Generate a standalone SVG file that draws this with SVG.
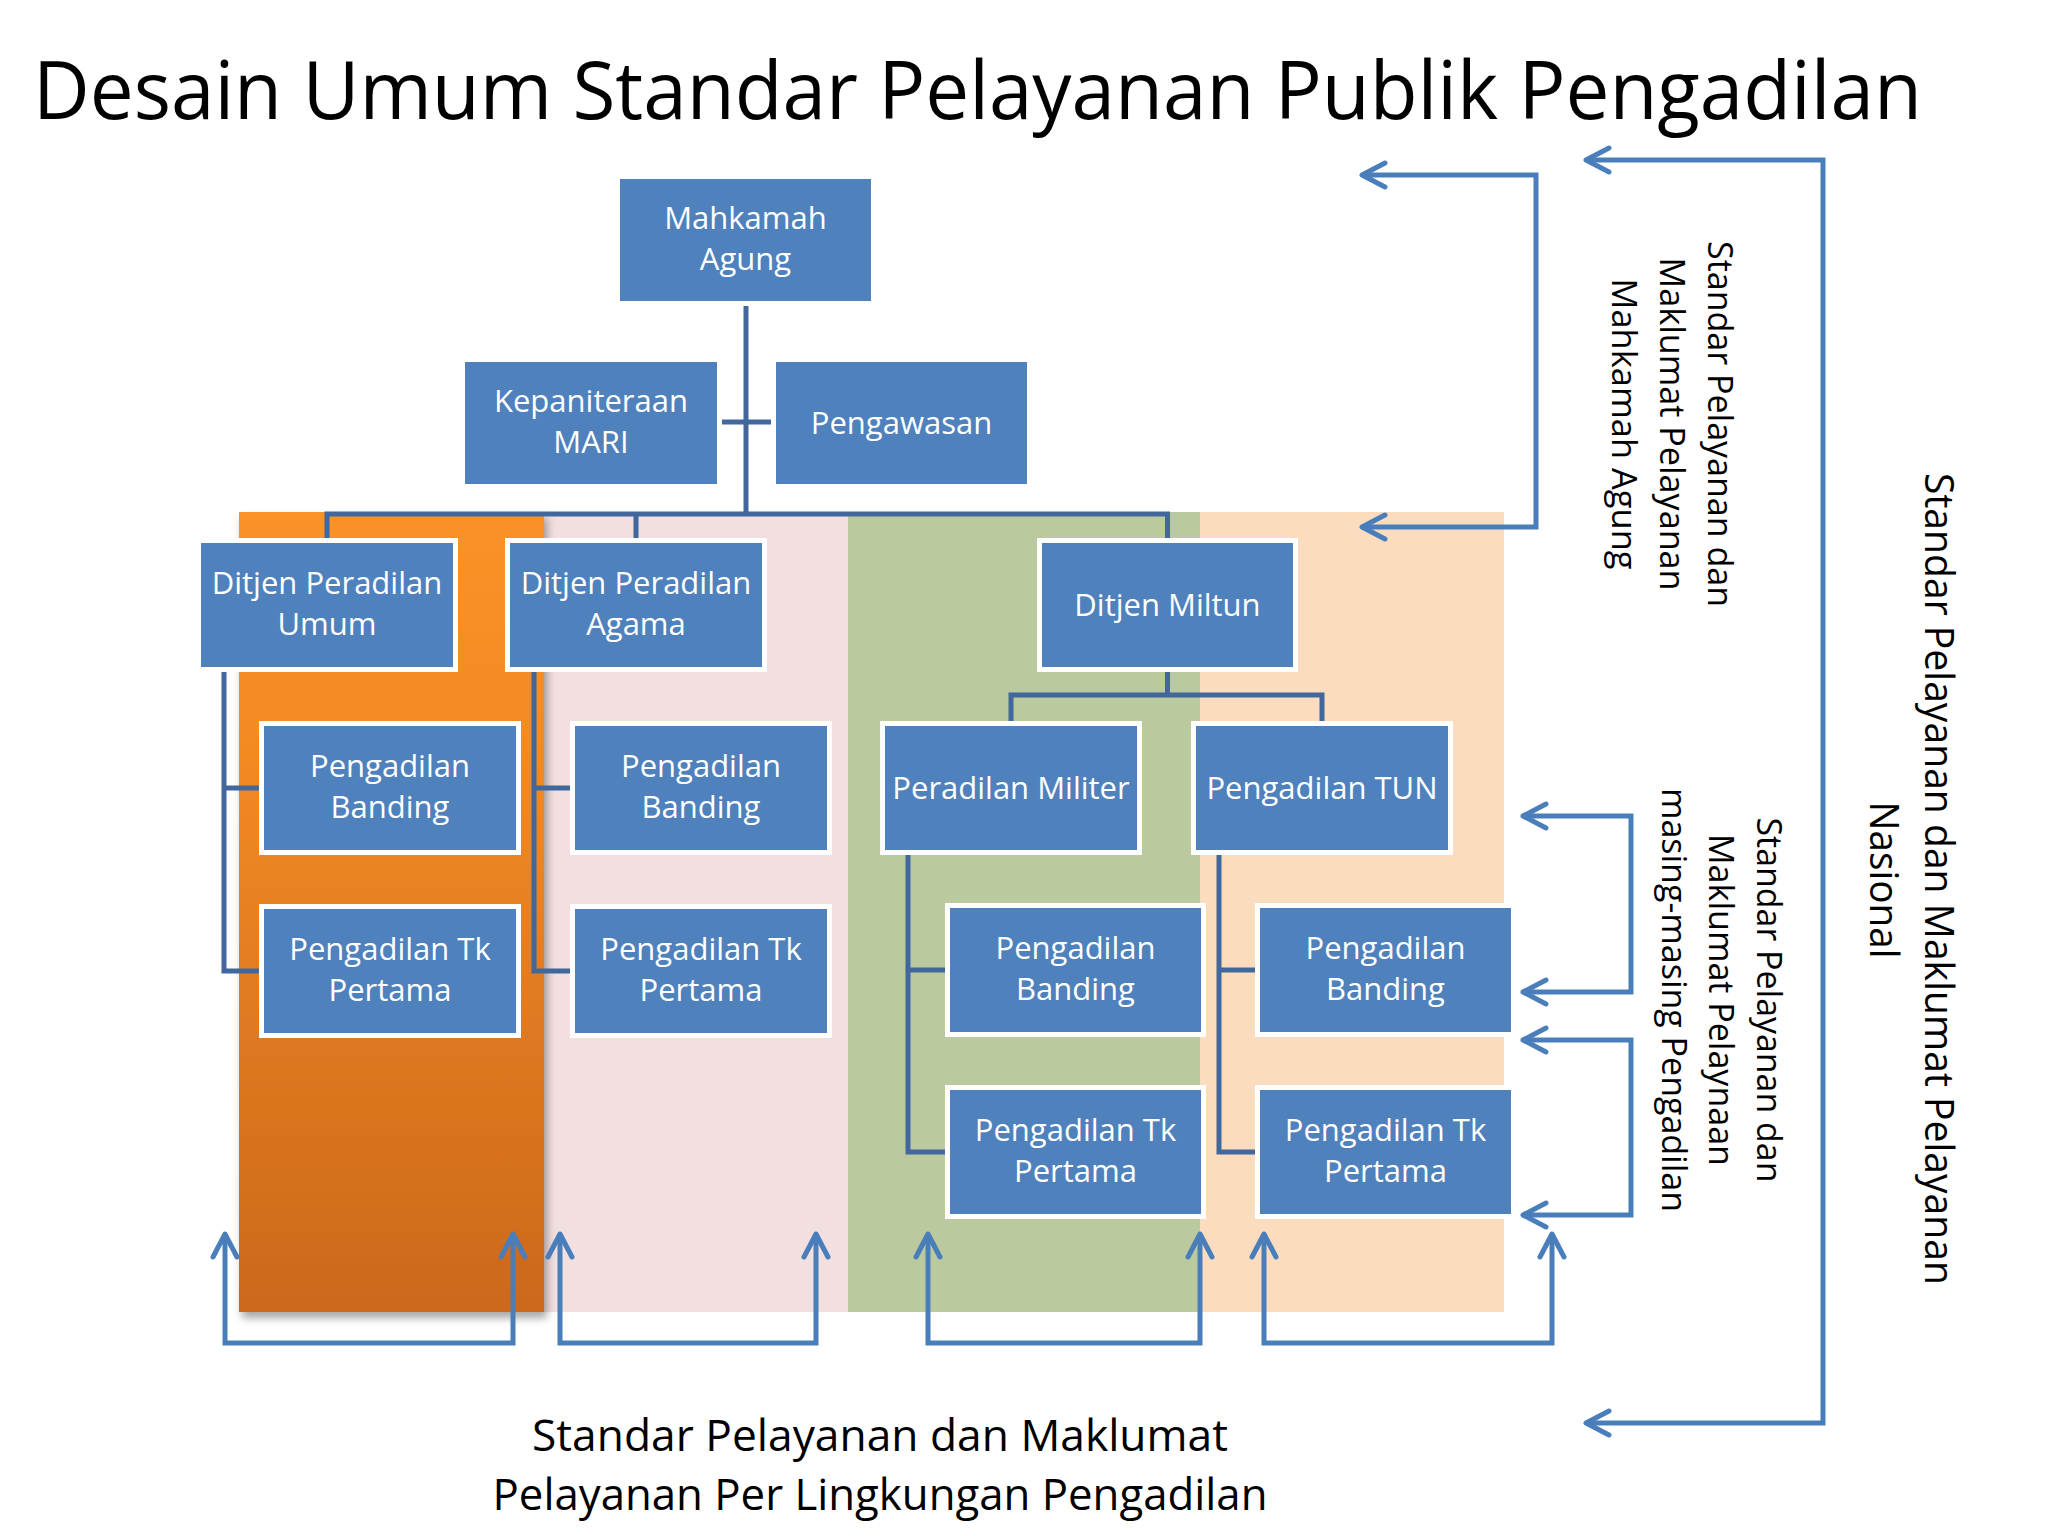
<svg xmlns="http://www.w3.org/2000/svg" width="2048" height="1536" viewBox="0 0 2048 1536">
<defs>
<linearGradient id="orangeGrad" x1="0" y1="0" x2="0" y2="1">
<stop offset="0" stop-color="#FA9229"/>
<stop offset="0.3" stop-color="#F28A24"/>
<stop offset="1" stop-color="#CC681C"/>
</linearGradient>
<filter id="shadow" x="-10%" y="-10%" width="130%" height="120%">
<feDropShadow dx="3" dy="6" stdDeviation="4" flood-color="#000" flood-opacity="0.35"/>
</filter>
<marker id="chev" markerUnits="userSpaceOnUse" markerWidth="40" markerHeight="40" viewBox="-30 -20 40 40" refX="0" refY="0" orient="auto-start-reverse" overflow="visible">
<path d="M-23,-12 L0,0 L-23,12" fill="none" stroke="#4A7EBB" stroke-width="5" stroke-linecap="round" stroke-linejoin="round"/>
</marker>
</defs>
<style>
.box{fill:#4F81BD;stroke:#FFFFFF;stroke-width:5}
.lbl{font-family:"Open Sans","Noto Sans","Liberation Sans",sans-serif;font-size:31px;fill:#FFFFFF;text-anchor:middle}
.conn{fill:none;stroke:#41679C;stroke-width:5}
.arr{fill:none;stroke:#4A7EBB;stroke-width:5;stroke-linejoin:miter;marker-start:url(#chev);marker-end:url(#chev)}
.side{font-family:"Open Sans","Noto Sans","Liberation Sans",sans-serif;fill:#000000;text-anchor:middle}
.title{font-family:"Open Sans","Noto Sans","Liberation Sans",sans-serif;fill:#000000}
</style>
<rect width="2048" height="1536" fill="#FFFFFF"/>

<g id="columns">
<rect x="1200" y="512" width="304" height="800" fill="#FBDCBF"/>
<rect x="848" y="512" width="352" height="800" fill="#BBCA9E"/>
<rect x="544" y="512" width="304" height="800" fill="#F2DFE0"/>
<rect x="239" y="512" width="305" height="800" fill="url(#orangeGrad)" filter="url(#shadow)"/>
</g>

<text class="title" x="33" y="119" font-size="81" textLength="1889" lengthAdjust="spacingAndGlyphs">Desain Umum Standar Pelayanan Publik Pengadilan</text>

<g id="connectors">
<path class="conn" d="M746,301 V514"/>
<path class="conn" d="M717,422 H776"/>
<path class="conn" d="M327,543 V514 H1167.5 V543"/>
<path class="conn" d="M636,514 V543"/>
<path class="conn" d="M224,667 V971 H264 M224,788 H264"/>
<path class="conn" d="M534,667 V971 H575 M534,788 H575"/>
<path class="conn" d="M1167.5,667 V695 M1011,726 V695 H1322 V726"/>
<path class="conn" d="M908,850 V1152 H950 M908,970 H950"/>
<path class="conn" d="M1219,850 V1152 H1260 M1219,970 H1260"/>
<path class="arr" d="M1362,175 H1536 V527 H1362"/>
<path class="arr" d="M1586,160 H1823 V1423 H1586"/>
<path class="arr" d="M1523,816 H1631 V992 H1523"/>
<path class="arr" d="M1523,1040 H1631 V1215 H1523"/>
<path class="arr" d="M225,1234 V1343 H513 V1234"/>
<path class="arr" d="M560,1234 V1343 H816 V1234"/>
<path class="arr" d="M928,1234 V1343 H1200 V1234"/>
<path class="arr" d="M1264,1234 V1343 H1552 V1234"/>
</g>

<g id="n-ma"><rect class="box" x="617.5" y="176.5" width="256" height="127"/>
<text class="lbl" x="745.5" y="229">Mahkamah</text><text class="lbl" x="745.5" y="270">Agung</text></g>
<g id="n-kepaniteraan"><rect class="box" x="462.5" y="359.5" width="257" height="127"/>
<text class="lbl" x="591" y="412">Kepaniteraan</text><text class="lbl" x="591" y="453">MARI</text></g>
<g id="n-pengawasan"><rect class="box" x="773.5" y="359.5" width="256" height="127"/>
<text class="lbl" x="901.5" y="434">Pengawasan</text></g>

<g id="n-ditjen-umum"><rect class="box" x="198.5" y="540.5" width="257" height="129"/>
<text class="lbl" x="327" y="594">Ditjen Peradilan</text><text class="lbl" x="327" y="635">Umum</text></g>
<g id="n-ditjen-agama"><rect class="box" x="507.5" y="540.5" width="257" height="129"/>
<text class="lbl" x="636" y="594">Ditjen Peradilan</text><text class="lbl" x="636" y="635">Agama</text></g>
<g id="n-ditjen-miltun"><rect class="box" x="1039.5" y="540.5" width="256" height="129"/>
<text class="lbl" x="1167.5" y="616">Ditjen Miltun</text></g>

<g id="n-umum-banding"><rect class="box" x="261.5" y="723.5" width="257" height="129"/>
<text class="lbl" x="390" y="777">Pengadilan</text><text class="lbl" x="390" y="818">Banding</text></g>
<g id="n-umum-tk"><rect class="box" x="261.5" y="906.5" width="257" height="129"/>
<text class="lbl" x="390" y="960">Pengadilan Tk</text><text class="lbl" x="390" y="1001">Pertama</text></g>
<g id="n-agama-banding"><rect class="box" x="572.5" y="723.5" width="257" height="129"/>
<text class="lbl" x="701" y="777">Pengadilan</text><text class="lbl" x="701" y="818">Banding</text></g>
<g id="n-agama-tk"><rect class="box" x="572.5" y="906.5" width="257" height="129"/>
<text class="lbl" x="701" y="960">Pengadilan Tk</text><text class="lbl" x="701" y="1001">Pertama</text></g>

<g id="n-peradilan-militer"><rect class="box" x="882.5" y="723.5" width="257" height="129"/>
<text class="lbl" x="1011" y="799">Peradilan Militer</text></g>
<g id="n-pengadilan-tun"><rect class="box" x="1193.5" y="723.5" width="257" height="129"/>
<text class="lbl" x="1322" y="799">Pengadilan TUN</text></g>
<g id="n-militer-banding"><rect class="box" x="947.5" y="905.5" width="256" height="129"/>
<text class="lbl" x="1075.5" y="959">Pengadilan</text><text class="lbl" x="1075.5" y="1000">Banding</text></g>
<g id="n-militer-tk"><rect class="box" x="947.5" y="1087.5" width="256" height="129"/>
<text class="lbl" x="1075.5" y="1141">Pengadilan Tk</text><text class="lbl" x="1075.5" y="1182">Pertama</text></g>
<g id="n-tun-banding"><rect class="box" x="1257.5" y="905.5" width="256" height="129"/>
<text class="lbl" x="1385.5" y="959">Pengadilan</text><text class="lbl" x="1385.5" y="1000">Banding</text></g>
<g id="n-tun-tk"><rect class="box" x="1257.5" y="1087.5" width="256" height="129"/>
<text class="lbl" x="1385.5" y="1141">Pengadilan Tk</text><text class="lbl" x="1385.5" y="1182">Pertama</text></g>

<g id="label-ma" class="side" font-size="34">
<text transform="translate(1708,424) rotate(90)" textLength="366" lengthAdjust="spacingAndGlyphs">Standar Pelayanan dan</text>
<text transform="translate(1660,424) rotate(90)" textLength="333" lengthAdjust="spacingAndGlyphs">Maklumat Pelayanan</text>
<text transform="translate(1612,424) rotate(90)" textLength="291" lengthAdjust="spacingAndGlyphs">Mahkamah Agung</text>
</g>
<g id="label-pengadilan" class="side" font-size="34">
<text transform="translate(1757,1000) rotate(90)" textLength="365" lengthAdjust="spacingAndGlyphs">Standar Pelayanan dan</text>
<text transform="translate(1709,1000) rotate(90)" textLength="332" lengthAdjust="spacingAndGlyphs">Maklumat Pelaynaan</text>
<text transform="translate(1662,1000) rotate(90)" textLength="424" lengthAdjust="spacingAndGlyphs">masing-masing Pengadilan</text>
</g>
<g id="label-nasional" class="side" font-size="41">
<text transform="translate(1925,879) rotate(90)" textLength="812" lengthAdjust="spacingAndGlyphs">Standar Pelayanan dan Maklumat Pelayanan</text>
<text transform="translate(1870,880) rotate(90)" textLength="157" lengthAdjust="spacingAndGlyphs">Nasional</text>
</g>
<g id="label-lingkungan" class="side" font-size="43">
<text x="880" y="1451" textLength="696" lengthAdjust="spacingAndGlyphs">Standar Pelayanan dan Maklumat</text>
<text x="880" y="1510" textLength="775" lengthAdjust="spacingAndGlyphs">Pelayanan Per Lingkungan Pengadilan</text>
</g>
</svg>
